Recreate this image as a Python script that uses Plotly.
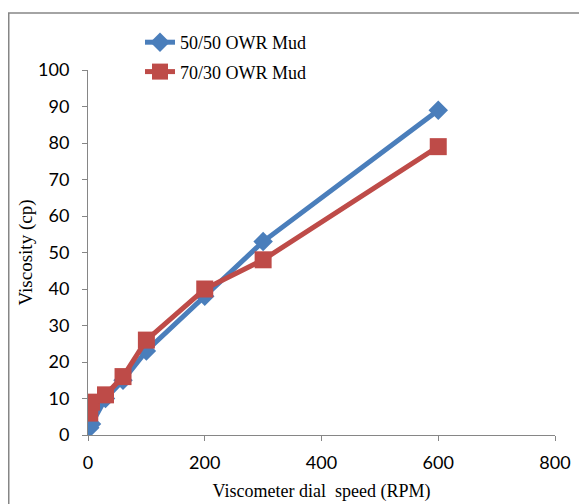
import plotly.graph_objects as go

rpm = [3, 6, 30, 60, 100, 200, 300, 600]
visc_5050 = [2, 3, 10, 15, 23, 38, 53, 89]
visc_7030 = [6, 9, 11, 16, 26, 40, 48, 79]
series_names = ["50/50 OWR Mud", "70/30 OWR Mud"]

W, H = 587, 504
L, R, T, B = 80, 40, 62, 77
pw, ph = W - L - R, H - T - B

serif = "Liberation Serif, Times New Roman, serif"
sans = "Lato, Open Sans, sans-serif"

fig = go.Figure()
fig.add_trace(go.Scatter(
    x=rpm, y=visc_5050, name=series_names[0], mode="lines+markers",
    line=dict(color="#4A7EBB", width=5),
    marker=dict(symbol="diamond", size=15, color="#4A7EBB"),
    legendgroup="a",
))
fig.add_trace(go.Scatter(
    x=rpm, y=visc_7030, name=series_names[1], mode="lines+markers",
    line=dict(color="#BE4B48", width=5),
    marker=dict(symbol="square", size=17, color="#BE4B48"),
    legendgroup="b",
))

axis_common = dict(
    showgrid=False, zeroline=False, showline=True, linecolor="#868686", linewidth=1,
    ticks="outside", ticklen=5, tickcolor="#868686",
    tickfont=dict(family=sans, size=18, color="#000"),
)
fig.update_xaxes(range=[0, 800], dtick=200, ticklabelstandoff=6, **axis_common,
                 title=dict(text="Viscometer dial  speed (RPM)", standoff=12,
                            font=dict(family=serif, size=18, color="#000")))
fig.update_yaxes(range=[0, 100], dtick=10, ticklabelstandoff=9, **axis_common,
                 title=dict(text="Viscosity (cp)", standoff=0,
                            font=dict(family=serif, size=19, color="#000")))

fig.update_layout(
    width=W, height=H,
    margin=dict(l=L, r=R, t=T, b=B),
    paper_bgcolor="white", plot_bgcolor="white",
    showlegend=True,
    legend=dict(x=(132 - L) / pw, y=(427 - 16) / ph, xanchor="left", yanchor="top",
                bgcolor="rgba(0,0,0,0)", tracegroupgap=3,
                font=dict(family=serif, size=18, color="#000")),
    shapes=[dict(type="rect", xref="paper", yref="paper",
                 x0=(0.75 - L) / pw, x1=(620 - L) / pw,
                 y0=(427 - 540) / ph, y1=(427 - 5) / ph,
                 line=dict(color="#868686", width=1.5), layer="below")],
)

fig.write_html("out.html")
